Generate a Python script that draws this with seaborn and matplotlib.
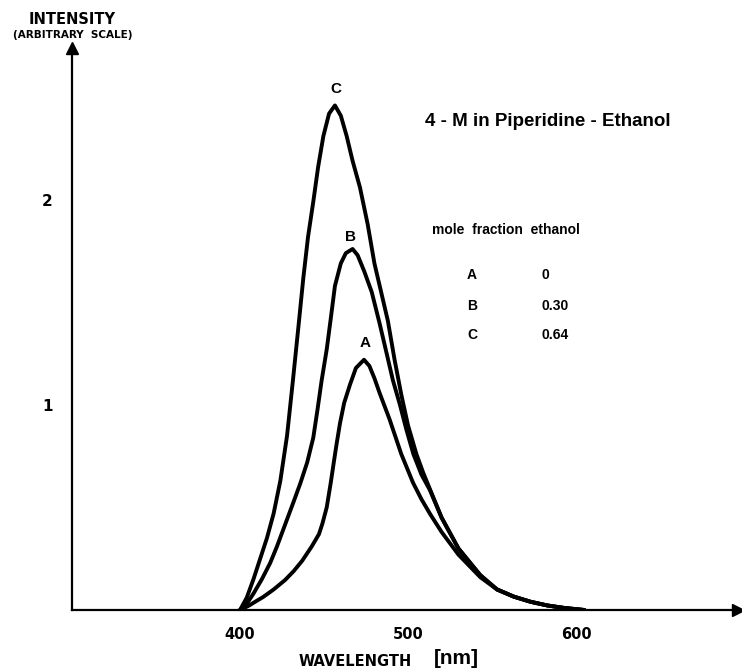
import matplotlib
matplotlib.use("Agg")
import matplotlib.pyplot as plt
import pandas as pd
import seaborn as sns

# ---- data (wavelength in nm, intensity arbitrary) ----
wl_A = [400, 405, 409, 413.7, 420, 426.8, 432, 437, 442.7, 447, 449, 451.6, 454, 456,
        457.5, 459.5, 462, 465.5, 469, 473.8, 477, 480, 483, 489, 496, 503, 508, 513, 520,
        530, 543, 553, 563, 573, 583, 593, 605]
int_A = [0.0, 0.02, 0.04, 0.063, 0.10, 0.146, 0.19, 0.24, 0.31, 0.37, 0.42, 0.50, 0.62, 0.73,
         0.81, 0.91, 1.01, 1.10, 1.18, 1.22, 1.19, 1.13, 1.06, 0.93, 0.76, 0.62, 0.54, 0.47, 0.38,
         0.27, 0.16, 0.10, 0.065, 0.04, 0.022, 0.01, 0.0]

wl_B = [400, 404, 408, 413, 418, 422, 427, 432, 436, 440, 443.6, 446, 448.6, 451.6,
        454, 456.5, 460, 463, 467, 470, 474, 478.4, 483, 487.3, 491, 495.2, 499, 503.2,
        508, 513, 520, 530, 543, 553, 563, 573, 583, 593, 605]
int_B = [0.0, 0.03, 0.08, 0.15, 0.23, 0.31, 0.42, 0.53, 0.62, 0.72, 0.84, 0.97, 1.12, 1.27,
         1.42, 1.58, 1.69, 1.74, 1.76, 1.73, 1.65, 1.55, 1.40, 1.25, 1.12, 1.00, 0.88, 0.76,
         0.66, 0.585, 0.45, 0.30, 0.17, 0.10, 0.065, 0.04, 0.022, 0.01, 0.0]

wl_C = [400, 404, 408, 412, 416, 420, 424, 428, 431.5, 435, 437.7, 440.5, 443.6, 446.5,
        449.6, 453, 456.5, 460, 463.5, 467, 471.4, 476, 480, 484, 488, 492, 496, 500,
        505, 509, 513, 520, 530, 543, 553, 563, 573, 583, 593, 605]
int_C = [0.0, 0.06, 0.15, 0.25, 0.35, 0.47, 0.63, 0.85, 1.12, 1.40, 1.62, 1.82, 1.99, 2.16,
         2.31, 2.42, 2.46, 2.41, 2.31, 2.19, 2.06, 1.88, 1.69, 1.55, 1.41, 1.22, 1.05, 0.90,
         0.76, 0.67, 0.59, 0.45, 0.30, 0.17, 0.10, 0.065, 0.04, 0.022, 0.01, 0.0]

curve_names = ["A", "B", "C"]
mole_fraction = ["0", "0.30", "0.64"]
x_ticks = [350, 400, 450, 500, 550, 600, 650]
x_tick_labels = ["", "400", "", "500", "", "600", ""]
y_ticks = [1, 2]
y_tick_labels = ["1", "2"]

# ---- build table ----
df = pd.concat([
    pd.DataFrame({"wavelength": wl_A, "intensity": int_A, "curve": "A"}),
    pd.DataFrame({"wavelength": wl_B, "intensity": int_B, "curve": "B"}),
    pd.DataFrame({"wavelength": wl_C, "intensity": int_C, "curve": "C"}),
], ignore_index=True)

sns.set_theme(style="white")
plt.rcParams["font.family"] = ["Liberation Sans", "DejaVu Sans"]
plt.rcParams["font.weight"] = "bold"
plt.rcParams["text.color"] = "black"
plt.rcParams["xtick.color"] = "black"
plt.rcParams["ytick.color"] = "black"

W, H = 742, 670
fig = plt.figure(figsize=(W / 100, H / 100), dpi=100)
fig.patch.set_facecolor("white")
ax = fig.add_axes([72 / W, 60 / H, 666 / W, 562 / H])
ax.set_facecolor("white")

sns.lineplot(data=df, x="wavelength", y="intensity", hue="curve",
             palette={"A": "black", "B": "black", "C": "black"},
             estimator=None, sort=False, linewidth=2.8, legend=False, ax=ax)
for ln in ax.get_lines():
    ln.set_solid_joinstyle("round")
    ln.set_solid_capstyle("round")

ax.set_xlim(300, 696.4)
ax.set_ylim(0, 2.74)

for s in ["top", "right"]:
    ax.spines[s].set_visible(False)
for s in ["left", "bottom"]:
    ax.spines[s].set_color("black")
    ax.spines[s].set_linewidth(1.6)

# axis arrow heads
ax.plot(1, 0, marker=">", color="black", markersize=8, transform=ax.transAxes, clip_on=False)
ax.plot(0, 1, marker="^", color="black", markersize=8, transform=ax.transAxes, clip_on=False)

ax.set_xticks(x_ticks)
ax.set_xticklabels(x_tick_labels, fontsize=10.5, fontweight="bold", family="DejaVu Sans")
ax.set_yticks(y_ticks)
ax.set_yticklabels(y_tick_labels, fontsize=11, fontweight="bold", family="DejaVu Sans")
ax.tick_params(axis="x", direction="out", length=9, width=1.8, pad=3, colors="black")
ax.tick_params(axis="y", direction="out", length=8, width=1.8, pad=6, colors="black")
ax.set_xlabel("")
ax.set_ylabel("")

# curve labels
ax.text(457, 2.54, "C", ha="center", va="center", fontsize=11, fontweight="bold")
ax.text(466, 1.82, "B", ha="center", va="center", fontsize=11, fontweight="bold")
ax.text(474.4, 1.30, "A", ha="center", va="center", fontsize=11, fontweight="bold")


def ftext(x, y, s, **kw):
    fig.text(x / W, 1 - y / H, s, **kw)


ftext(425, 122, "4 - M in Piperidine - Ethanol", ha="left", va="center",
      fontsize=13.5, fontweight="bold")
ftext(432, 230, "mole  fraction  ethanol", ha="left", va="center",
      fontsize=10, fontweight="bold")
for name, val, yy in zip(curve_names, mole_fraction, [275, 306, 335]):
    ftext(472, yy, name, ha="center", va="center", fontsize=10, fontweight="bold")
    ftext(541, yy, val, ha="left", va="center", fontsize=10, fontweight="bold")

ftext(72, 20, "INTENSITY", ha="center", va="center", fontsize=10.5, fontweight="bold",
      family="DejaVu Sans")
ftext(73, 35, "(ARBITRARY  SCALE)", ha="center", va="center", fontsize=7.5, fontweight="bold",
      family="DejaVu Sans")

ftext(355, 662, "WAVELENGTH", ha="center", va="center", fontsize=10.5, fontweight="bold",
      family="DejaVu Sans")
ftext(456, 659, "[nm]", ha="center", va="center", fontsize=15, fontweight="bold")

fig.savefig("out.png", dpi=100, facecolor="white")
